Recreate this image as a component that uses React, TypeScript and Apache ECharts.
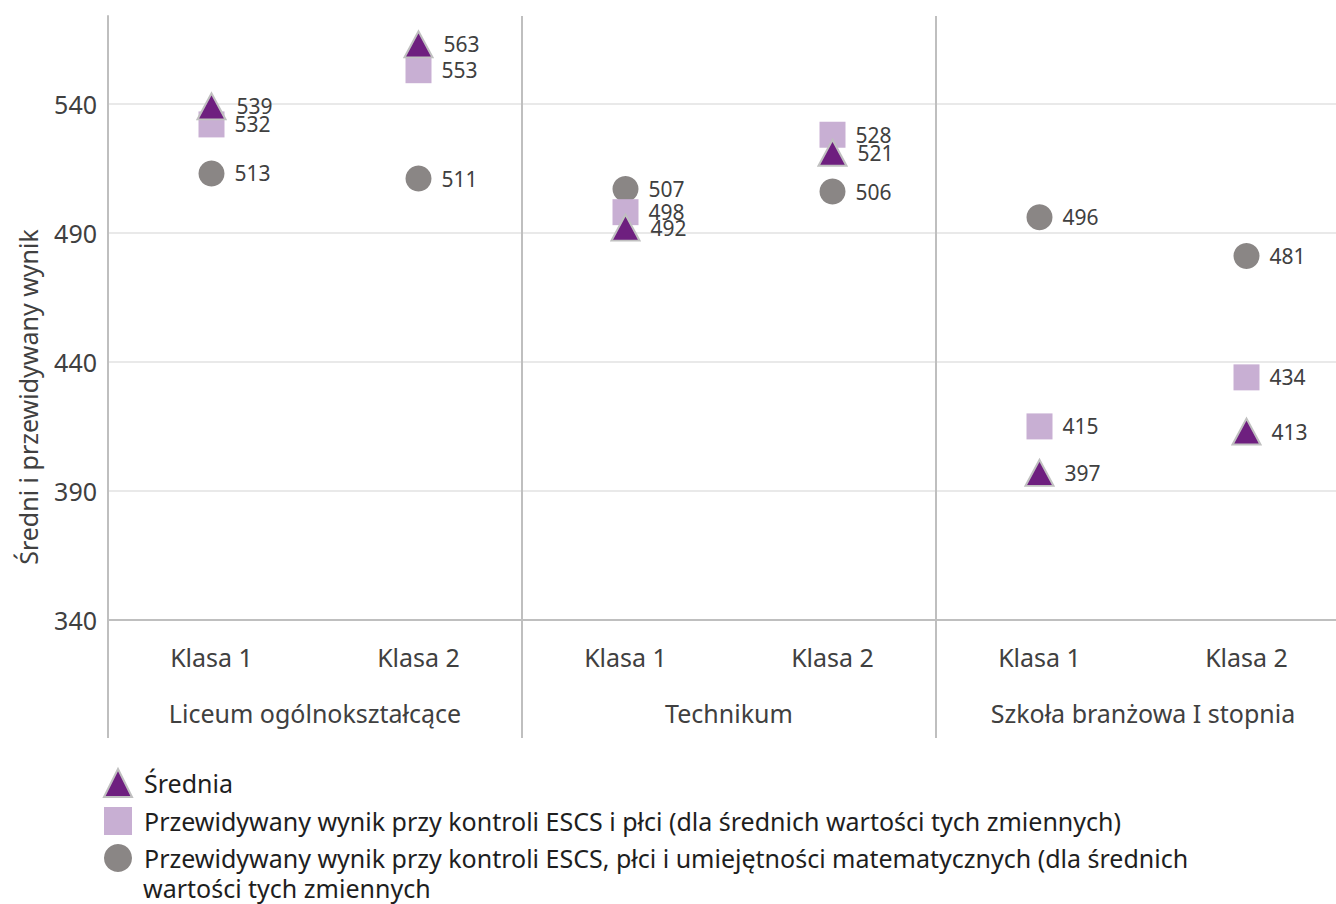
import React, { useEffect, useRef } from "react";
import * as echarts from "echarts";

const groups = ["Liceum ogólnokształcące", "Technikum", "Szkoła branżowa I stopnia"];
const categories = ["Klasa 1", "Klasa 2", "Klasa 1", "Klasa 2", "Klasa 1", "Klasa 2"];
const seriesNames = [
  "Średnia",
  "Przewidywany wynik przy kontroli ESCS i płci (dla średnich wartości tych zmiennych)",
  "Przewidywany wynik przy kontroli ESCS, płci i umiejętności matematycznych (dla średnich",
];
const legendContinuation = "wartości tych zmiennych";
const sredniaValues = [539, 563, 492, 521, 397, 413];
const escsPlecValues = [532, 553, 498, 528, 415, 434];
const escsPlecMatValues = [513, 511, 507, 506, 496, 481];
const yTicks = [340, 390, 440, 490, 540];
const yAxisTitle = "Średni i przewidywany wynik";

const FONT = "Noto Sans";
const TEXT = "#404040";
const LEG = "#1e1e1e";

export default function App() {
  const ref = useRef<HTMLDivElement>(null);
  useEffect(() => {
    if (!ref.current) return;
    const chart = echarts.init(ref.current, undefined, { renderer: "svg" });
    const label = {
      show: true,
      position: "right" as const,
      distance: 10,
      fontFamily: FONT,
      fontSize: 21,
      color: TEXT,
    };
    chart.setOption({
      animation: false,
      textStyle: { fontFamily: FONT },
      grid: { left: 108, right: 0, top: 16, bottom: 284 },
      legend: {
        orient: "vertical",
        left: 98,
        top: 763,
        itemWidth: 28,
        itemHeight: 28,
        itemGap: 9,
        selectedMode: false,
        data: [seriesNames[0], seriesNames[1], seriesNames[2]],
        textStyle: { fontFamily: FONT, fontSize: 25, color: LEG, padding: [0, 0, 0, 7] },
      },
      graphic: [
        {
          type: "text",
          x: 28,
          y: 397,
          rotation: Math.PI / 2,
          style: {
            text: yAxisTitle,
            fontFamily: FONT,
            fontSize: 25,
            fill: TEXT,
            align: "center",
            verticalAlign: "middle",
          },
        },
        {
          type: "text",
          left: 143,
          top: 875,
          style: { text: legendContinuation, fontFamily: FONT, fontSize: 25, fill: LEG },
        },
      ],
      xAxis: [
        {
          type: "category",
          data: categories,
          boundaryGap: true,
          axisLine: { show: true, lineStyle: { color: "#bfbfbf", width: 2 } },
          axisTick: { show: false },
          splitLine: { show: false },
          axisLabel: { interval: 0, margin: 24, fontFamily: FONT, fontSize: 25, color: TEXT },
        },
        {
          type: "category",
          data: groups,
          position: "bottom",
          boundaryGap: true,
          axisLine: { show: false },
          axisTick: { show: true, interval: 0, length: 118, lineStyle: { color: "#bfbfbf", width: 2 } },
          splitLine: { show: true, interval: 0, lineStyle: { color: "#bfbfbf", width: 2 } },
          axisLabel: { interval: 0, margin: 80, fontFamily: FONT, fontSize: 25, color: TEXT },
        },
      ],
      yAxis: {
        type: "value",
        min: yTicks[0],
        max: 574,
        interval: 50,
        axisLine: { show: true, lineStyle: { color: "#bfbfbf", width: 2 } },
        axisTick: { show: false },
        splitLine: {
          show: true,
          showMinLine: false,
          showMaxLine: false,
          lineStyle: { color: "#e9e9e9", width: 2 },
        },
        axisLabel: {
          margin: 11,
          fontFamily: FONT,
          fontSize: 25,
          color: TEXT,
          showMaxLabel: false,
          formatter: (v: number) => (yTicks.includes(v) ? String(v) : ""),
        },
      },
      series: [
        {
          name: seriesNames[2],
          type: "scatter",
          data: escsPlecMatValues,
          symbol: "circle",
          symbolSize: 26,
          itemStyle: { color: "#8a8685", opacity: 1 },
          label,
          z: 2,
        },
        {
          name: seriesNames[1],
          type: "scatter",
          data: escsPlecValues,
          symbol: "rect",
          symbolSize: 26,
          itemStyle: { color: "#c8afd3", opacity: 1 },
          label,
          z: 3,
        },
        {
          name: seriesNames[0],
          type: "scatter",
          data: sredniaValues,
          symbol: "triangle",
          symbolSize: [28, 26],
          itemStyle: { color: "#6e1f7f", borderColor: "#c0c0c0", borderWidth: 2, opacity: 1 },
          label,
          z: 4,
        },
      ],
    });
    return () => chart.dispose();
  }, []);
  return (
    <div style={{ position: "absolute", left: 0, top: 0, width: 1336, height: 904, overflow: "hidden", background: "#fff" }}>
      <div ref={ref} style={{ width: 1350, height: 904 }} />
    </div>
  );
}
